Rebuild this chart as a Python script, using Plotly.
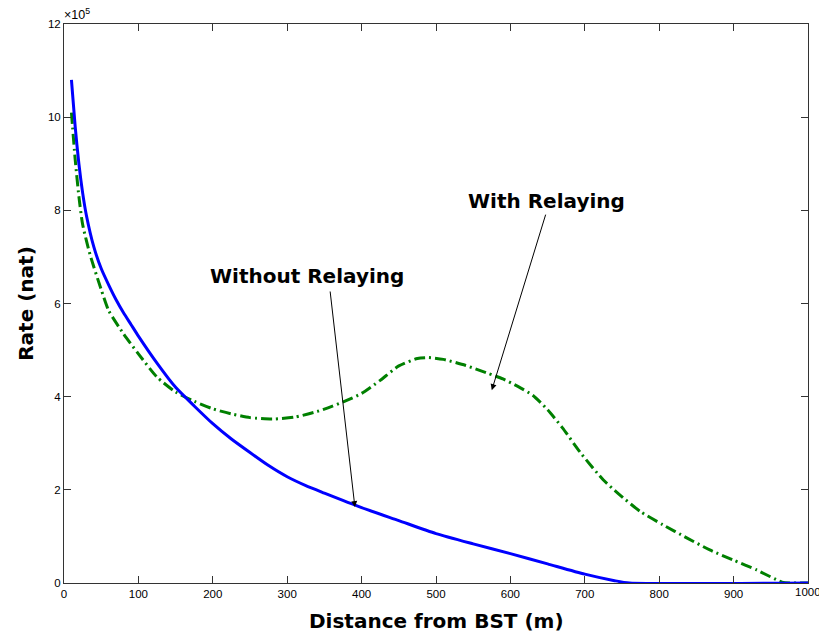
import plotly.graph_objects as go

# Distance from BST (m) and rate (in units of 1e5 nat)
dist_without = [10, 15, 20, 25, 30, 40, 50, 60, 70, 80, 90, 100, 125, 150, 175, 200, 225, 250,
                275, 300, 325, 350, 400, 450, 500, 550, 600, 650, 700, 740, 760, 1000]
rate_without = [10.8, 9.8, 9.0, 8.38, 7.9, 7.22, 6.75, 6.4, 6.08, 5.8, 5.55, 5.3, 4.72, 4.2, 3.8,
                3.42, 3.09, 2.8, 2.52, 2.28, 2.09, 1.93, 1.62, 1.34, 1.06, 0.84, 0.63, 0.41, 0.19,
                0.05, 0.0, 0.0]

dist_with = [10, 15, 20, 25, 35, 50, 60, 80, 100, 125, 150, 175, 200, 225, 250, 280, 310, 340,
             360, 380, 400, 425, 450, 475, 490, 510, 540, 570, 590, 610, 630, 650, 670, 695,
             725, 745, 775, 805, 837, 868, 900, 931, 965, 975, 1000]
rate_with = [10.1, 9.1, 8.3, 7.7, 7.05, 6.3, 5.85, 5.35, 4.92, 4.42, 4.1, 3.9, 3.74, 3.63, 3.55,
             3.52, 3.56, 3.68, 3.79, 3.92, 4.07, 4.35, 4.66, 4.82, 4.84, 4.80, 4.67, 4.5, 4.38,
             4.22, 4.03, 3.72, 3.33, 2.78, 2.21, 1.92, 1.53, 1.25, 0.97, 0.71, 0.49, 0.28, 0.02,
             0.0, 0.0]

x_ticks = [0, 100, 200, 300, 400, 500, 600, 700, 800, 900, 1000]
y_ticks = [0, 2, 4, 6, 8, 10, 12]

tick_font = dict(family="Liberation Sans, Arial, sans-serif", size=11.5, color="black")
title_font = dict(family="DejaVu Sans, sans-serif", size=20, color="black")

fig = go.Figure()
fig.add_trace(go.Scatter(x=dist_with, y=rate_with, mode="lines",
                         line=dict(color="#008000", width=3, dash="11px,4px,2px,4px", shape="spline", smoothing=0.6),
                         showlegend=False))
fig.add_trace(go.Scatter(x=dist_without, y=rate_without, mode="lines",
                         line=dict(color="#0000FF", width=3, shape="spline", smoothing=0.6),
                         showlegend=False))

axis_common = dict(showgrid=False, zeroline=False, showline=True, linecolor="#333333", linewidth=1,
                   mirror="ticks", ticks="inside", ticklen=7, tickcolor="#333333", tickfont=tick_font)

# last x label (1000) drawn as annotation so it is not dropped at the figure edge
x_ticktext = [str(v) for v in x_ticks[:-1]] + [""]

fig.update_xaxes(range=[0, 1000], tickvals=x_ticks, ticktext=x_ticktext, **axis_common)
fig.update_yaxes(range=[0, 12], tickvals=y_ticks, ticktext=[str(v) for v in y_ticks],
                 title=dict(text="<b>Rate (nat)</b>", standoff=8, font=title_font),
                 **axis_common)

fig.add_annotation(x=x_ticks[-1], y=0, xref="x", yref="y", xanchor="center", yanchor="top",
                   text=str(x_ticks[-1]), showarrow=False, yshift=-1, font=tick_font)
fig.add_annotation(x=0.5, y=0, xref="paper", yref="paper", xanchor="center", yanchor="middle",
                   text="<b>Distance from BST (m)</b>", showarrow=False, yshift=-38, font=title_font)

ann_font = dict(family="DejaVu Sans, sans-serif", size=20, color="black")
fig.add_annotation(x=575, y=4.14, ax=648, ay=7.94, xref="x", yref="y", axref="x", ayref="y",
                   showarrow=True, arrowhead=2, arrowsize=1.2, arrowwidth=1, arrowcolor="black", text="")
fig.add_annotation(x=391, y=1.63, ax=357.5, ay=6.29, xref="x", yref="y", axref="x", ayref="y",
                   showarrow=True, arrowhead=2, arrowsize=1.2, arrowwidth=1, arrowcolor="black", text="")
fig.add_annotation(x=648, y=8.2, xref="x", yref="y", text="<b>With Relaying</b>", showarrow=False,
                   font=ann_font)
fig.add_annotation(x=326, y=6.59, xref="x", yref="y", text="<b>Without Relaying</b>", showarrow=False,
                   font=ann_font)
fig.add_annotation(x=0, y=1, xref="paper", yref="paper", xanchor="left", yanchor="bottom",
                   text="\u00d710<sup>5</sup>", showarrow=False, xshift=-2, yshift=0,
                   font=dict(family="Liberation Sans, Arial, sans-serif", size=12.5, color="black"))

fig.update_layout(width=819, height=636, margin=dict(l=64, r=11, t=24, b=53),
                  paper_bgcolor="white", plot_bgcolor="white")

fig.write_html("out.html")
